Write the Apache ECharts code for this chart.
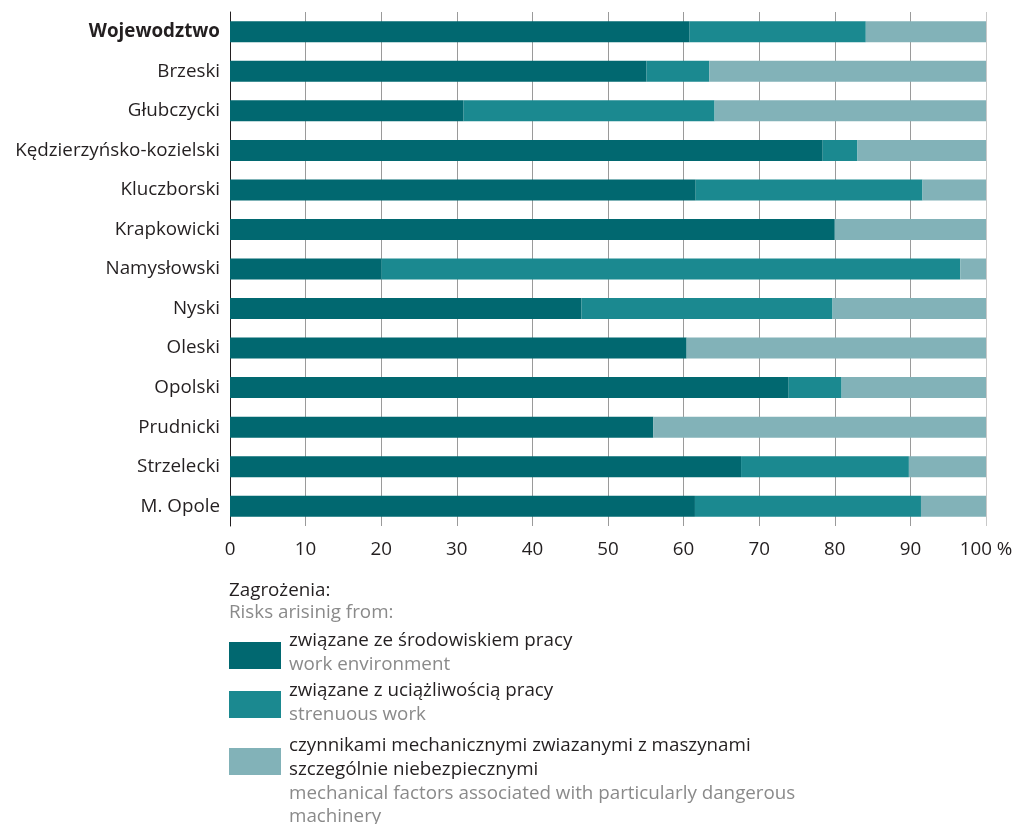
<!DOCTYPE html>
<html><head><meta charset="utf-8">
<script src="https://cdn.jsdelivr.net/npm/echarts@6/dist/echarts.min.js"></script>
<style>html,body{margin:0;padding:0;background:#fff}#c{width:1024px;height:824px}</style>
</head><body><div id="c"></div>
<script>
const categories = ['Wojewodztwo','Brzeski','Głubczycki','Kędzierzyńsko-kozielski','Kluczborski','Krapkowicki','Namysłowski','Nyski','Oleski','Opolski','Prudnicki','Strzelecki','M. Opole'];
const workEnvironment = [60.8, 55.1, 30.9, 78.4, 61.6, 80.0, 20.0, 46.5, 60.4, 73.9, 56.0, 67.6, 61.5];
const strenuousWork   = [23.3, 8.3, 33.2, 4.6, 30.0, 0, 76.6, 33.2, 0, 7.0, 0, 22.2, 29.9];
const mechanical      = [15.9, 36.6, 35.9, 17.0, 8.4, 20.0, 3.4, 20.3, 39.6, 19.1, 44.0, 10.2, 8.6];
const xTicks = [0,10,20,30,40,50,60,70,80,90,100];
const legendTitle = ['Zagrożenia:', 'Risks arisinig from:'];
const legendPl = [['związane ze środowiskiem pracy'], ['związane z uciążliwością pracy'], ['czynnikami mechanicznymi zwiazanymi z maszynami', 'szczególnie niebezpiecznymi']];
const legendEn = [['work environment'], ['strenuous work'], ['mechanical factors associated with particularly dangerous', 'machinery']];
const colors = ['#016870', '#1b8990', '#82b2b8'];

const FONT = '"Open Sans"';
const FS = 18.8;
const chart = echarts.init(document.getElementById('c'));

const seriesData = [workEnvironment, strenuousWork, mechanical];
const series = seriesData.map((d, i) => ({
  type: 'bar', stack: 'total', data: d, barWidth: 21,
  itemStyle: { color: colors[i] }, silent: true
}));

const graphic = [];
const lx = 229, tx = 289;
graphic.push({ type: 'text', left: lx, top: 581, style: { text: legendTitle[0], fill: '#231f20', font: FS + 'px ' + FONT } });
graphic.push({ type: 'text', left: lx, top: 603, style: { text: legendTitle[1], fill: '#8a8a8a', font: FS + 'px ' + FONT } });
const itemTops = [631, 681, 736];
const rectTops = [642, 691, 748];
itemTops.forEach((t, i) => {
  graphic.push({ type: 'rect', left: lx, top: rectTops[i], shape: { width: 52, height: 27 }, style: { fill: colors[i] } });
  let y = t;
  legendPl[i].forEach(s => { graphic.push({ type: 'text', left: tx, top: y, style: { text: s, fill: '#231f20', font: FS + 'px ' + FONT } }); y += 24; });
  legendEn[i].forEach(s => { graphic.push({ type: 'text', left: tx, top: y, style: { text: s, fill: '#8a8a8a', font: FS + 'px ' + FONT } }); y += 23.5; });
});

const gridColors = xTicks.map((v, i) => i === xTicks.length - 1 ? '#c8c8c8' : '#9a9a9a');

chart.setOption({
  animation: false,
  textStyle: { fontFamily: FONT },
  grid: { left: 230, right: 38, top: 12, height: 514 },
  xAxis: {
    type: 'value', min: 0, max: 100, interval: 10,
    axisLine: { show: false }, axisTick: { show: false },
    splitLine: { show: true, lineStyle: { color: gridColors, width: 1 } },
    axisLabel: { color: '#231f20', fontSize: FS, margin: 14, fontFamily: FONT,
      formatter: v => v === 100 ? '100 %' : String(v) }
  },
  yAxis: {
    type: 'category', data: categories, inverse: true,
    axisLine: { show: true, lineStyle: { color: '#231f20', width: 1 } },
    axisTick: { show: false },
    axisLabel: { color: '#231f20', fontSize: FS, margin: 10, fontFamily: FONT,
      formatter: v => v === 'Wojewodztwo' ? '{b|' + v + '}' : v,
      rich: { b: { fontWeight: 'bold', fontSize: FS, color: '#231f20', fontFamily: FONT } } }
  },
  series: series,
  graphic: graphic
});
</script></body></html>
